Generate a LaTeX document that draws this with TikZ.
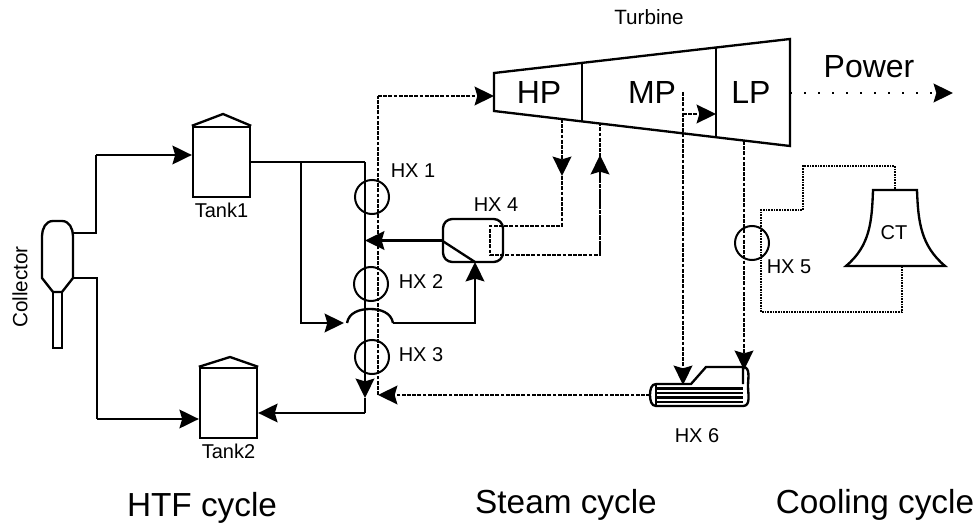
\documentclass[tikz,border=0pt]{standalone}
\usepackage{fontspec}
\setmainfont{Liberation Sans}
\usetikzlibrary{arrows.meta,positioning}

\begin{document}
\begin{tikzpicture}[%
    x=0.75pt,
    y=-0.75pt,
    on grid,
    node distance=36pt and 36pt,
    line width=1.75pt,
    >={Stealth[length=14.5pt,width=14pt,inset=2pt]},
    tank/.style={%
        draw,
        minimum width=42.75pt,
        minimum height=52.5pt,
        inner sep=0pt,
    },
    hx/.style={%
        draw,
        circle,
        minimum size=25.5pt,
        inner sep=0pt,
        line width=1.5pt,
    },
    small/.style={font=\fontsize{15}{15}\selectfont},
    large/.style={font=\fontsize{24}{24}\selectfont},
    cycle/.style={font=\fontsize{25}{25}\selectfont},
    steam/.style={dash pattern=on 2.8pt off 1.1pt, line width=1.7pt},
    water/.style={dash pattern=on 1.2pt off 0.8pt, line width=1.7pt},
]
\useasboundingbox (0,0) rectangle (974,524);
    % collector
    \draw (53,292) -- (53,348) -- (62,348) -- (62,292);
    \draw (53,292) -- (42,278) -- (42,236) to[out=90,in=180] (53,221)
        -- (62,221) to[out=0,in=90] (73,236) -- (73,278) -- (62,292) -- cycle;
    \node[font=\fontsize{15.5}{15.5}\selectfont, rotate=90] (collector) at (20,287) {Collector};
    \coordinate (colhot) at (73,233);
    \coordinate (colcold) at (72,278);

    % tanks
    \node[tank] (tank1) at (221.5,162) {};
    \node[tank] (tank2) at (228.5,403) {};
    \draw (tank1.north west) -- (223,114) -- (tank1.north east);
    \draw (tank2.north west) -- (230,357) -- (tank2.north east);
    \node[small, below=of tank1] (tank1label) {Tank1};
    \node[small, below=of tank2] (tank2label) {Tank2};

    \coordinate (hot1) at (96,233);
    \coordinate (hot2) at (96,155);
    \coordinate (cold1) at (97,278);
    \coordinate (cold2) at (97,419);
    \draw (colhot) -- (hot1) -- (hot2);
    \draw[->] (hot2) -- (hot2 -| tank1.west);
    \draw (colcold) -- (cold1) -- (cold2);
    \draw[->] (cold2) -- (cold2 -| tank2.west);

    % heat exchangers on the htf line
    \node[hx] (hx1) at (372,197) {};
    \node[hx] (hx2) at (371,284) {};
    \node[hx] (hx3) at (372,357) {};
    \node[small] (hx1label) at (413,171) {HX 1};
    \node[small] (hx2label) at (421,282) {HX 2};
    \node[small] (hx3label) at (421,355) {HX 3};

    % htf lines
    \coordinate (htftop) at (365,162);
    \coordinate (split) at (301,162);
    \coordinate (htftip) at (365,398);
    \coordinate (htfend) at (365,413);
    \coordinate (bypass) at (301,323);
    \coordinate (bumpin) at (344,323);
    \coordinate (bumpout) at (393,323);
    \coordinate (corner) at (475,323);
    \coordinate (hx4in) at (475,262);
    \draw (htftop -| tank1.east) -- (htftop);
    \draw[->] (htftop) -- (htftip);
    \draw (htftip) -- (htfend);
    \draw[->] (htfend) -- (htfend -| tank2.east);
    \draw[->] (split) -- (bypass) -- (bumpin);
    \draw (bumpin) ++(3,0) to[out=80,in=180] (370,309) to[out=0,in=100] (bumpout);
    \draw[->] (bumpout) -- (corner) -- (hx4in);

    % hx 4
    \node[draw, rounded corners=7pt, minimum width=45pt, minimum height=32.25pt, inner sep=0pt] (hx4) at (473,240.5) {};
    \node[small] (hx4label) at (496,205) {HX 4};
    \draw (hx4.west) -- (hx4in);
    \draw[->] (hx4.west) -- (hx4.west -| htftop);

    % turbine
    \draw (494,73) -- (790,39) -- (790,146) -- (494,111) -- cycle;
    \draw (582,63) -- (582,121.4);
    \draw (716,47.5) -- (716,137.2);
    \node[large] (hp) at (539,92) {HP};
    \node[large] (mp) at (652,92) {MP};
    \node[large] (lp) at (751,92) {LP};
    \node[font=\fontsize{15.5}{15.5}\selectfont] (turbine) at (649,17) {Turbine};
    \node[large] (power) at (869,67) {Power};
    \coordinate (powerin) at (790,93);
    \coordinate (powerout) at (953,93);
    \draw[->, dash pattern=on 1.7pt off 8.8pt] (powerin) -- (powerout);

    % steam lines
    \coordinate (steamend) at (378,395);
    \coordinate (steamtop) at (378,96);
    \coordinate (hpin) at (494,96);
    \coordinate (hpout) at (562,119);
    \coordinate (hpmid) at (562,176);
    \coordinate (coil1) at (562,226);
    \coordinate (coil2) at (490,226);
    \coordinate (coil3) at (490,255);
    \coordinate (coil4) at (600,255);
    \coordinate (mpmid) at (600,155);
    \coordinate (mpin) at (600,124);
    \coordinate (mptap) at (683,92);
    \coordinate (mpbleed) at (683,114);
    \coordinate (lpin) at (716,114);
    \coordinate (hx6top) at (683,385);
    \coordinate (lpout) at (744,141);
    \coordinate (hx6in) at (744,370);
    \coordinate (hx6out) at (650,395);
    \draw[steam] (steamend) -- (steamtop);
    \draw[steam, ->] (steamtop) -- (hpin);
    \draw[steam, ->] (hpout) -- (hpmid);
    \draw[steam] (hpmid) -- (coil1) -- (coil2) -- (coil3) -- (coil4) -- (mpin);
    \draw[steam, ->] (coil4) -- (mpmid);
    \draw[steam, ->] (mpbleed) -- (lpin);
    \draw[steam, ->] (mptap) -- (hx6top);
    \draw[steam, ->] (lpout) -- (hx6in);
    \draw[steam, ->] (hx6out) -- (steamend);

    % hx 6
    \draw (656,384) -- (691,384) -- (706,367) -- (743,367) -- (743,384);
    \draw (656,384) to[out=180,in=90] (650,395) to[out=-90,in=180] (656,406) -- (743,406)
        to[out=0,in=-90] (748,386) to[out=90,in=0] (743,367);
    \foreach \y in {388.5,393,397.5,402}{%
        \draw (656,\y) -- (743,\y);
    }
    \draw (656,384) -- (656,406);
    \node[small] (hx6label) at (697,436) {HX 6};

    % cooling tower
    \draw (873,190) -- (917,190) to[out=-88,in=140] (945,266) -- (846,266)
        to[out=40,in=-92] (873,190) -- cycle;
    \node[small] (ct) at (894,233) {CT};

    % cooling lines
    \node[hx] (hx5) at (752,243) {};
    \node[small] (hx5label) at (789,267) {HX 5};
    \coordinate (ctout) at (895,189);
    \coordinate (ctin) at (902,266);
    \coordinate (w1) at (895,166);
    \coordinate (w2) at (803,166);
    \coordinate (w3) at (803,210);
    \coordinate (w4) at (761,210);
    \coordinate (w5) at (761,312);
    \coordinate (w6) at (902,312);
    \draw[water] (ctout) -- (w1) -- (w2) -- (w3) -- (w4) -- (w5) -- (w6) -- (ctin);

    % cycle names
    \node[cycle] (htf) at (202,508) {HTF cycle};
    \node[cycle] (steamcycle) at (566,505) {Steam cycle};
    \node[cycle] (coolcycle) at (875,505) {Cooling cycle};
\end{tikzpicture}
\end{document}
